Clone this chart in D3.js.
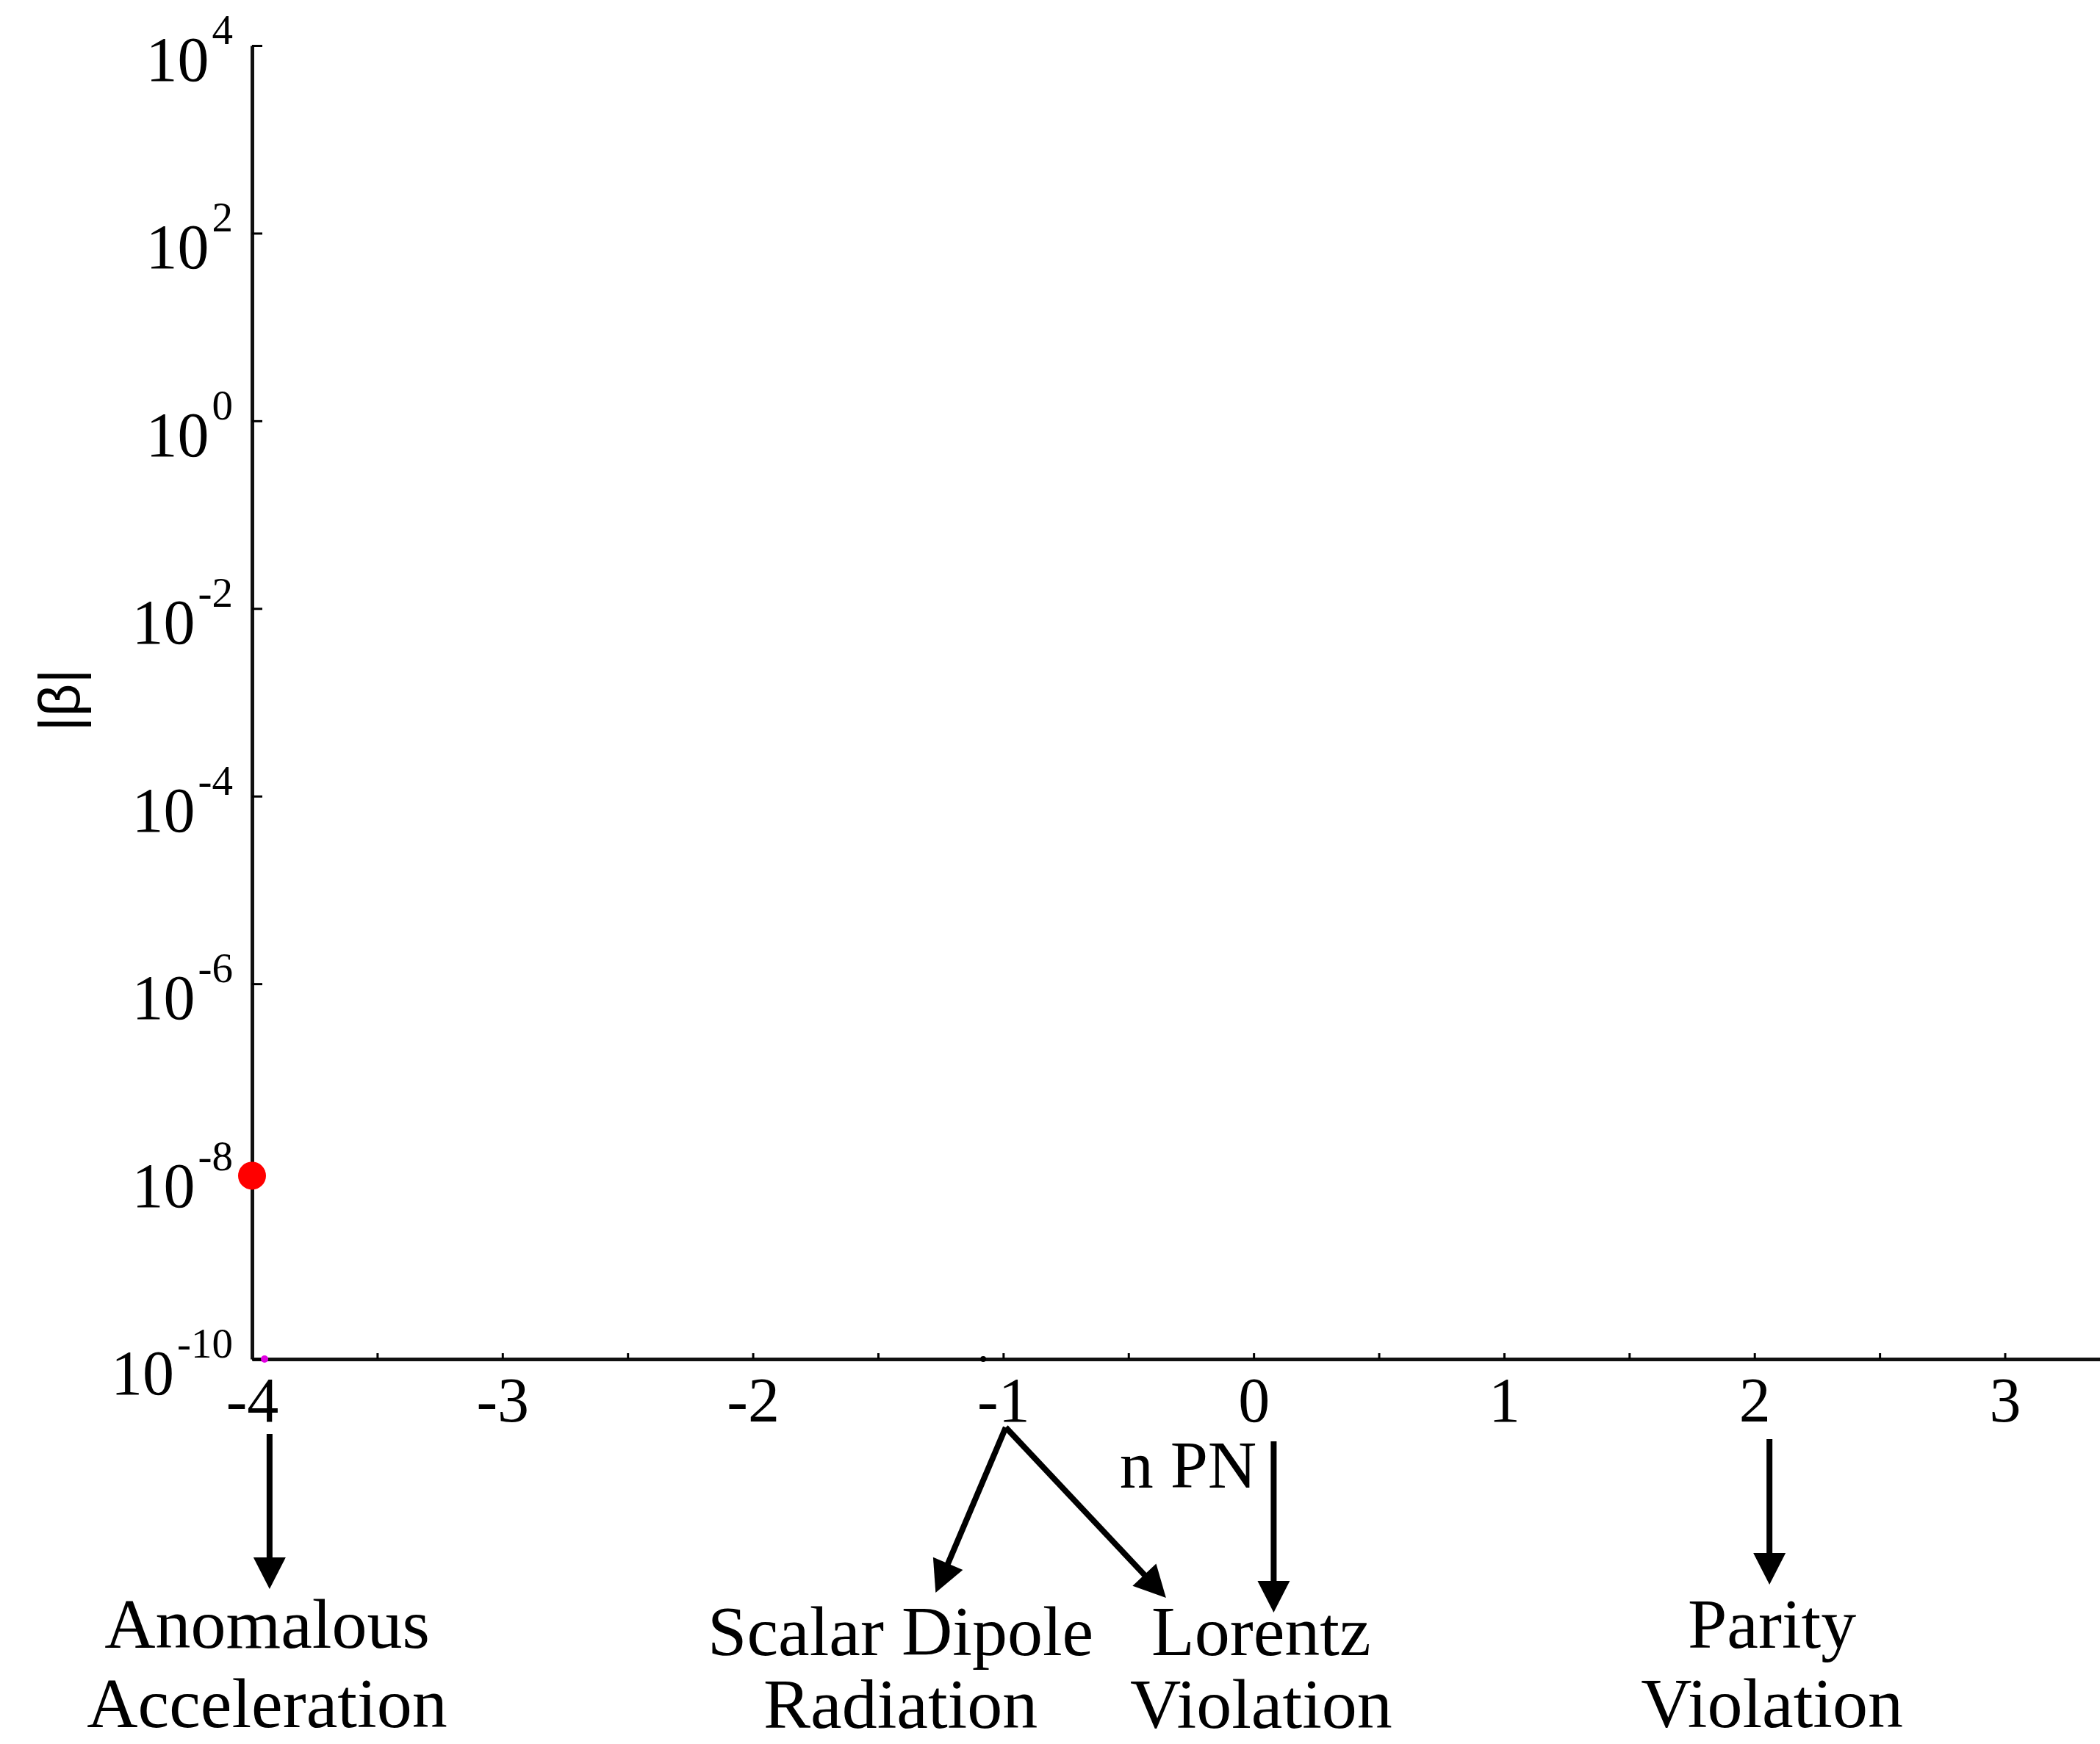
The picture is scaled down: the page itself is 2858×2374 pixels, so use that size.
<!DOCTYPE html>
<html>
<head>
<meta charset="utf-8">
<script src="https://cdn.jsdelivr.net/npm/d3@7"></script>
<style>
  body { margin: 0; background: #fff; }
  svg { display: block; }
  text { font-family: "Liberation Serif", "Times New Roman", serif; fill: #000; }
</style>
</head>
<body>
<svg width="2858" height="2374"></svg>
<script>
// |beta| against PN order n; only a couple of points sit on the plot
var points = [
  {n: -4.0,  beta: 0.9e-8, color: "#ff0000", r: 19},
  {n: -3.95, beta: 1e-10,  color: "#e000e0", r: 5},
  {n: -1.08, beta: 1e-10,  color: "#000000", r: 4}
];
var xTicks = [-4, -3.5, -3, -2.5, -2, -1.5, -1, -0.5, 0, 0.5, 1, 1.5, 2, 2.5, 3];
var yDecades = [4, 2, 0, -2, -4, -6, -8, -10];

// annotations under the axis: arrows in n units, text centred on n
var arrows = [
  {n0: -3.93, n1: -3.93, y0: 1952, y1: 2163},
  {n0: -0.99, n1: -1.27, y0: 1943, y1: 2168},
  {n0: -0.99, n1: -0.35, y0: 1943, y1: 2175},
  {n0: 0.08,  n1: 0.08,  y0: 1962, y1: 2195},
  {n0: 2.06,  n1: 2.06,  y0: 1959, y1: 2157}
];
var notes = [
  {n: -3.94, lines: ["Anomalous", "Acceleration"], y: [2243, 2351]},
  {n: -1.41, lines: ["Scalar Dipole", "Radiation"], y: [2253, 2352]},
  {n: 0.03,  lines: ["Lorentz", "Violation"], y: [2253, 2352]},
  {n: 2.07,  lines: ["Parity", "Violation"], y: [2243, 2351]}
];

var svg = d3.select("svg");

var x = d3.scaleLinear().domain([-4, 3.38]).range([343, 2858]);
var y = d3.scaleLog().domain([1e-10, 1e4]).range([1850, 62]);

// x axis, ticks pointing into the plot
var gx = svg.append("g")
    .attr("transform", "translate(0," + y(1e-10) + ")")
    .call(d3.axisBottom(x)
      .tickValues(xTicks)
      .tickSizeInner(-8)
      .tickSizeOuter(0)
      .tickFormat(function(d){ return Number.isInteger(d) ? String(d) : ""; }));
gx.select(".domain").attr("stroke-width", 5).attr("stroke", "#111");
gx.selectAll(".tick line").attr("stroke-width", 3);
gx.selectAll(".tick text")
    .attr("y", 85).attr("dy", 0)
    .attr("font-size", 86)
    .attr("font-family", "Liberation Serif")
    .attr("fill", "#000");

// y axis
var gy = svg.append("g")
    .attr("transform", "translate(" + x(-4) + ",0)")
    .call(d3.axisLeft(y)
      .tickValues(yDecades.map(function(e){ return Math.pow(10, e); }))
      .tickSizeInner(-14)
      .tickSizeOuter(0)
      .tickFormat(""));
gy.select(".domain").attr("stroke-width", 5).attr("stroke", "#111");
gy.selectAll(".tick line").attr("stroke-width", 3);

var ylab = svg.append("g").selectAll("text")
    .data(yDecades)
    .enter().append("text")
      .attr("x", x(-4) - 26)
      .attr("y", function(d){ return y(Math.pow(10, d)) + 48; })
      .attr("text-anchor", "end")
      .attr("font-size", 86);
ylab.append("tspan").text("10");
ylab.append("tspan")
    .attr("dy", -50)
    .attr("dx", 4)
    .attr("font-size", 57)
    .text(function(d){ return String(d); });

// axis titles
svg.append("text")
    .attr("transform", "translate(108," + 953 + ") rotate(-90)")
    .attr("text-anchor", "middle")
    .style("font-family", "Liberation Sans")
    .attr("font-size", 78)
    .text("|β|");

svg.append("text")
    .attr("x", 1617)
    .attr("y", 2025)
    .attr("text-anchor", "middle")
    .attr("font-size", 92)
    .text("n PN");

// points
svg.append("g").selectAll("circle")
    .data(points)
    .enter().append("circle")
      .attr("cx", function(d){ return x(d.n); })
      .attr("cy", function(d){ return y(d.beta); })
      .attr("r", function(d){ return d.r; })
      .attr("fill", function(d){ return d.color; });

// arrows: shaft plus a filled head
var headLen = 43, headW = 22;
var ga = svg.append("g");
arrows.forEach(function(a){
  var x0 = x(a.n0), x1 = x(a.n1);
  var dx = x1 - x0, dy = a.y1 - a.y0, len = Math.sqrt(dx*dx + dy*dy);
  var ux = dx/len, uy = dy/len;
  var bx = x1 - ux*headLen, by = a.y1 - uy*headLen;
  ga.append("line")
      .attr("x1", x0).attr("y1", a.y0)
      .attr("x2", bx + ux*2).attr("y2", by + uy*2)
      .attr("stroke", "#000").attr("stroke-width", 8);
  ga.append("polygon")
      .attr("points", [
        [x1, a.y1],
        [bx - uy*headW, by + ux*headW],
        [bx + uy*headW, by - ux*headW]
      ].map(function(p){ return p.join(","); }).join(" "))
      .attr("fill", "#000");
});

// annotation text
var gn = svg.append("g").selectAll("text")
    .data(notes)
    .enter().append("text")
      .attr("text-anchor", "middle")
      .attr("font-size", 96);
gn.selectAll("tspan")
    .data(function(d){ return d.lines.map(function(l, i){ return {t: l, n: d.n, y: d.y[i]}; }); })
    .enter().append("tspan")
      .attr("x", function(d){ return x(d.n); })
      .attr("y", function(d){ return d.y; })
      .text(function(d){ return d.t; });
</script>
</body>
</html>
